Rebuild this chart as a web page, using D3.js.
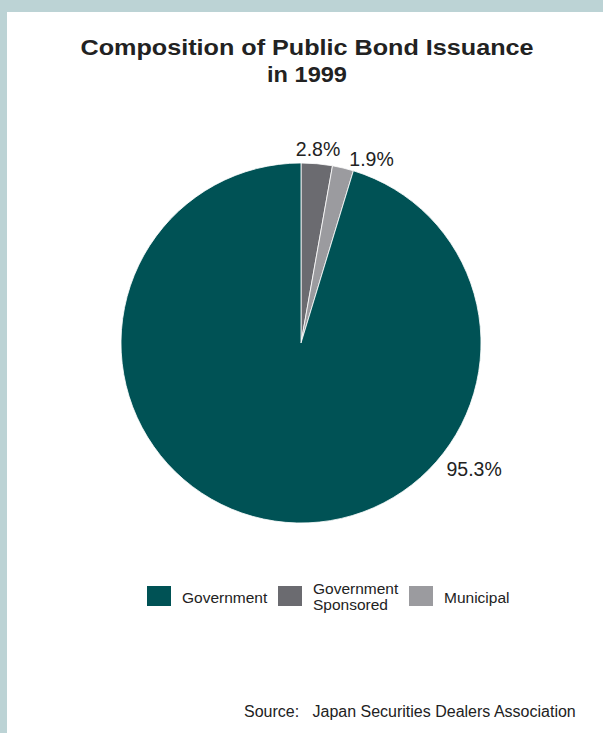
<!DOCTYPE html>
<html>
<head>
<meta charset="utf-8">
<script src="https://cdn.jsdelivr.net/npm/d3@7"></script>
<style>
  html, body { margin: 0; padding: 0; background: #bcd3d5; }
  #chartContainer { width: 603px; height: 733px; }
  svg text { font-family: Arial, "Liberation Sans", Helvetica, sans-serif; }
</style>
</head>
<body>
<div id="chartContainer"></div>
<script>
// pie data
const categories = ["Government Sponsored", "Municipal", "Government"];
const shares = [2.8, 1.9, 95.3];
const sliceColors = ["#6b6b70", "#9b9b9f", "#005255"];
const legendOrder = ["Government", "Government Sponsored", "Municipal"];
const legendLabels = [["Government"], ["Government", "Sponsored"], ["Municipal"]];

(function() {
    const fullWidth = 603, fullHeight = 733;
    const cx = 301, cy = 343, radius = 180;

    const svg = d3.select("#chartContainer").append("svg")
        .attr("width", fullWidth)
        .attr("height", fullHeight)
        .style("display", "block");

    // white panel inside the grey-blue frame
    svg.append("rect")
        .attr("x", 7).attr("y", 12)
        .attr("width", fullWidth - 7).attr("height", fullHeight - 12)
        .attr("fill", "#fff");

    // title (the original face is wider than Arial, so stretch to its width)
    const titleLines = [
        { text: "Composition of Public Bond Issuance", y: 55, w: 453 },
        { text: "in 1999", y: 82, w: 80 }
    ];
    svg.append("g").selectAll("text")
        .data(titleLines)
        .join("text")
        .attr("x", 307)
        .attr("y", d => d.y)
        .attr("text-anchor", "middle")
        .attr("textLength", d => d.w)
        .attr("lengthAdjust", "spacingAndGlyphs")
        .style("font-size", "21.5px")
        .style("font-weight", "bold")
        .attr("fill", "#222")
        .text(d => d.text);

    const color = d3.scaleOrdinal().domain(categories).range(sliceColors);

    const pie = d3.pie().sort(null).value(d => d.value);
    const arcs = pie(categories.map((c, i) => ({ name: c, value: shares[i] })));
    const arc = d3.arc().innerRadius(0).outerRadius(radius);

    const g = svg.append("g").attr("transform", `translate(${cx},${cy})`);
    g.selectAll("path")
        .data(arcs)
        .join("path")
        .attr("d", arc)
        .attr("fill", d => color(d.data.name))
        .attr("stroke", "#fff")
        .attr("stroke-width", 0.8)
        .attr("stroke-linejoin", "round");

    // label placement (angle in degrees from 12 o'clock, distance from centre)
    const labelPos = [
        { angle: 5, dist: 195 },
        { angle: 21, dist: 197 },
        { angle: 126, dist: 214 }
    ];
    g.selectAll("text.lbl")
        .data(arcs)
        .join("text")
        .attr("class", "lbl")
        .attr("x", (d, i) => labelPos[i].dist * Math.sin(labelPos[i].angle * Math.PI / 180))
        .attr("y", (d, i) => -labelPos[i].dist * Math.cos(labelPos[i].angle * Math.PI / 180))
        .attr("dy", "0.35em")
        .attr("text-anchor", "middle")
        .style("font-size", "19.5px")
        .attr("fill", "#222")
        .text(d => d.data.value.toFixed(1) + "%");

    // legend
    const legendX = [147, 278, 409];
    const legend = svg.append("g");
    legendOrder.forEach((name, i) => {
        legend.append("rect")
            .attr("x", legendX[i]).attr("y", 586)
            .attr("width", 24).attr("height", 20)
            .attr("fill", color(name));
        const t = legend.append("text")
            .style("font-size", "15.5px")
            .attr("fill", "#222");
        const lines = legendLabels[i];
        lines.forEach((ln, j) => {
            t.append("tspan")
                .attr("x", legendX[i] + 35)
                .attr("y", lines.length === 1 ? 603 : 594 + j * 16)
                .text(ln);
        });
    });

    // source
    svg.append("text")
        .attr("x", 244).attr("y", 717)
        .style("font-size", "16px")
        .style("white-space", "pre")
        .attr("fill", "#222")
        .text("Source:   Japan Securities Dealers Association");
})();
</script>
</body>
</html>
